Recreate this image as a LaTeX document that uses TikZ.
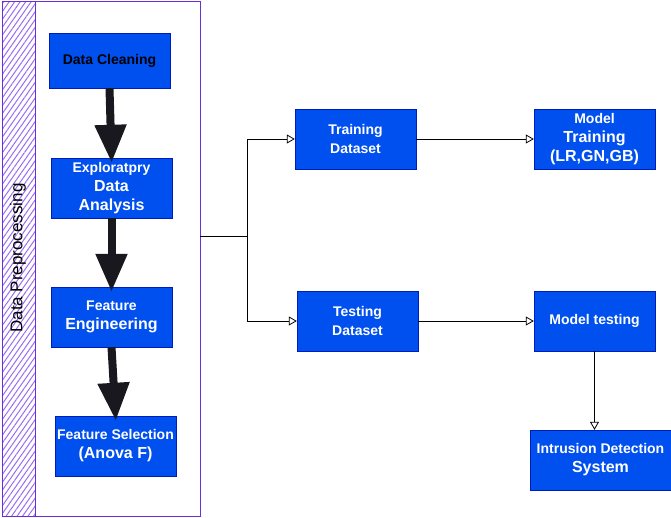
\documentclass[tikz,border=0pt]{standalone}
\usepackage{fontspec}
\setmainfont{Liberation Sans}
\usepackage{tikz}
\usetikzlibrary{arrows.meta}
\usetikzlibrary{patterns.meta}
\usepackage{xcolor}
\definecolor{stepblue}{HTML}{0050EF}
\definecolor{stepedge}{HTML}{001DBC}
\definecolor{prepedge}{HTML}{6A2FDA}
\definecolor{prephatch}{HTML}{9A6CEE}
\definecolor{arrowblack}{HTML}{18181E}

\begin{document}
\begin{tikzpicture}[x=1pt, y=-1pt,
        stepbox/.style={draw=stepedge, fill=stepblue, text=white, align=center,
            minimum width=121pt, minimum height=60pt, inner sep=2pt,
            font=\bfseries\fontsize{14}{19}\selectfont},
        link/.style={thick, -{Triangle[open, length=8pt, width=9pt]}},
        bigarrow/.style={line width=8pt, color=arrowblack,
            -{Triangle[length=38pt, width=30pt]}, shorten >=-5pt}]
                \useasboundingbox (0,0) rectangle (671,517);
                \def\big{\fontsize{16}{19}\selectfont}
                % preprocessing container
                \draw[prepedge, fill=white, thick] (35,1) rectangle (200,516);
                \fill[pattern={Lines[angle=55, distance=4.5pt, line width=1pt]},
                    pattern color=prephatch] (2,1) rectangle (35,516);
                \draw[prepedge, thick] (2,1) rectangle (35,516);
                \node[rotate=90, font=\fontsize{17}{20}\selectfont] (preplabel) at (18,258)
                    {Data Preprocessing};
                \node[stepbox, minimum height=55pt, text=black] (clean) at (109.5,60.5)
                    {Data Cleaning};
                \node[stepbox] (eda) at (111.5,188) {Exploratpry\\{\big Data}\\{\big Analysis}};
                \node[stepbox] (feng) at (111.5,317) {Feature\\{\big Engineering}};
                \node[stepbox] (fsel) at (115.5,446) {Feature Selection\\{\big (Anova F)}};
                \draw[bigarrow] (clean.south) -- (eda.north);
                \draw[bigarrow] (eda.south) -- (feng.north);
                \draw[bigarrow] (feng.south) -- (fsel.north);
                % datasets and models
                \node[stepbox] (train) at (355.5,139) {Training\\Dataset};
                \node[stepbox] (test) at (357.5,321) {Testing\\Dataset};
                \node[stepbox] (mtrain) at (594.5,139) {Model\\{\big Training}\\{\big (LR,GN,GB)}};
                \node[stepbox] (mtest) at (594.5,321) {Model testing};
                \node[stepbox, minimum width=141pt] (ids) at (600.5,460)
                    {Intrusion Detection\\{\big System}};
                \coordinate (prepout) at (200,236);
                \coordinate (split) at (247,236);
                \draw[thick] (prepout) -- (split);
                \draw[link] (split) |- (train);
                \draw[link] (split) |- (test);
                \draw[link] (train) -- (mtrain);
                \draw[link] (test) -- (mtest);
                \draw[link] (mtest.south) -- (mtest.south |- ids.north);
            \end{tikzpicture}
\end{document}
